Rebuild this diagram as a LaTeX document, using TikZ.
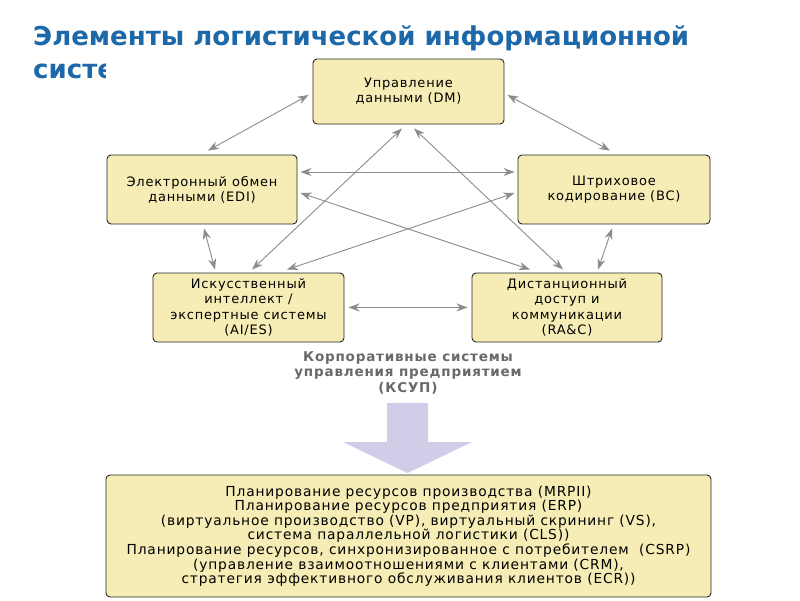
\documentclass[tikz,border=0pt]{standalone}
\usepackage{fontspec}
\usetikzlibrary{calc,arrows.meta}
\newfontfamily\dfont[LetterSpace=6]{DejaVu Sans}
\newfontfamily\tfont{DejaVu Sans}
\definecolor{titleblue}{RGB}{28,104,168}
\definecolor{boxfill}{RGB}{245,237,181}
\definecolor{arrgray}{RGB}{140,140,140}
\definecolor{bigarrow}{RGB}{208,205,232}
\definecolor{ksupgray}{RGB}{105,105,105}
\begin{document}
\begin{tikzpicture}[x=1pt,y=-1pt,
 box/.style={draw=black!85,line width=0.9pt,fill=boxfill,rounded corners=4pt,align=center,inner sep=0pt,
   font=\dfont\fontsize{13}{15.2}\selectfont},
 conn/.style={draw=arrgray,line width=0.9pt,{Stealth[length=11pt,width=8pt]}-{Stealth[length=11pt,width=8pt]}},
 titletext/.style={anchor=base west,text=titleblue,inner sep=0pt,font=\tfont\bfseries\fontsize{26}{30}\selectfont}]
\useasboundingbox (0,0) rectangle (800,600);
\fill[white] (0,0) rectangle (800,600);
% title
\node[titletext] (t1) at (33,45) {Элементы логистической информационной};
\begin{scope}
\clip (0,50) rectangle (105,100);
\node[titletext] (t2) at (33,78) {системы};
\end{scope}
% boxes
\node[box,minimum width=191pt,minimum height=65pt] (dm) at (408.5,91.5) {Управление\\данными (DM)};
\node[box,minimum width=190pt,minimum height=69pt] (edi) at (202,189.5) {Электронный обмен\\данными (EDI)};
\node[box,minimum width=192pt,minimum height=69pt] (bc) at (614,189.5) {Штриховое\\кодирование (BC)};
\node[box,minimum width=191pt,minimum height=69pt] (ai) at (248.5,307.5) {Искусственный\\интеллект /\\экспертные системы\\(AI/ES)};
\node[box,minimum width=190pt,minimum height=69pt] (ra) at (567,307.5) {Дистанционный\\доступ и\\коммуникации\\(RA\&C)};
\node[align=center,inner sep=0pt,text=ksupgray,font=\dfont\bfseries\fontsize{13.5}{15.5}\selectfont] (ksup) at (408,372.5)
 {Корпоративные системы\\управления предприятием\\(КСУП)};
\node[box,minimum width=605pt,minimum height=122pt,font=\dfont\fontsize{13.8}{14.6}\selectfont] (bot) at (408.5,536)
 {Планирование ресурсов производства (MRPII)\\
  Планирование ресурсов предприятия (ERP)\\
  (виртуальное производство (VP), виртуальный скрининг (VS),\\
  система параллельной логистики (CLS))\\
  Планирование ресурсов, синхронизированное с потребителем\ \ (CSRP)\\
  (управление взаимоотношениями с клиентами (CRM),\\
  стратегия эффективного обслуживания клиентов (ECR))};
% big arrow
\fill[bigarrow] (387,403) -- (428,403) -- (428,442) -- (472,442) -- (407.5,473) -- (343,442) -- (387,442) -- cycle;
% connectors
\draw[conn] ($(dm.west)+(-4,3.5)$) -- ($(edi.north)+(6,-4)$);
\draw[conn] ($(dm.east)+(3,3.5)$) -- ($(bc.north)+(-4,-4)$);
\draw[conn] ($(edi.east)+(3,-17.5)$) -- ($(bc.west)+(-3,-17.5)$);
\draw[conn] ($(edi.east)+(3,3.5)$) -- ($(ra.north)+(-37,-3)$);
\draw[conn] ($(bc.west)+(-3,3.5)$) -- ($(ai.north)+(38.5,-3)$);
\draw[conn] ($(dm.south)+(-6.5,4)$) -- ($(ai.north)+(3.5,-3)$);
\draw[conn] ($(dm.south)+(5.5,4)$) -- ($(ra.north)+(-4,-3)$);
\draw[conn] ($(edi.south)+(2,4)$) -- ($(ai.north)+(-33.5,-3)$);
\draw[conn] ($(bc.south)+(-2,4)$) -- ($(ra.north)+(31,-3)$);
\draw[conn] ($(ai.east)+(4,0)$) -- ($(ra.west)+(-4,0)$);
\end{tikzpicture}
\end{document}
